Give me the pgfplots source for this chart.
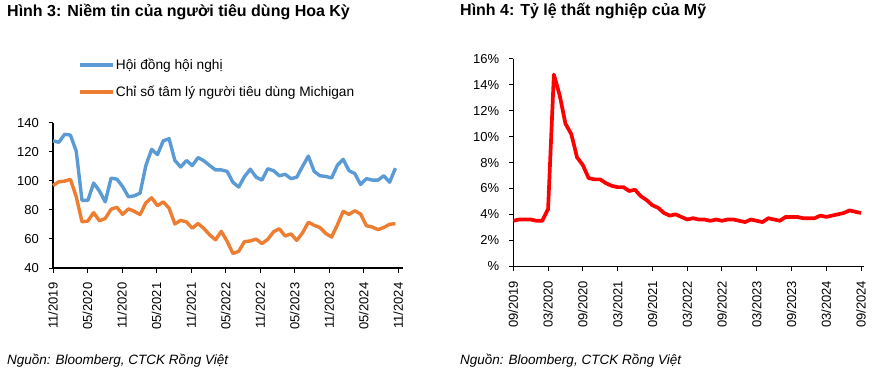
\documentclass[border=0pt]{standalone}
\usepackage{pgfplots}
\pgfplotsset{compat=1.18}
\usepackage{fontspec}
\setmainfont{Liberation Sans}
\definecolor{cbblue}{HTML}{5B9BD5}
\definecolor{umorange}{HTML}{ED7D31}
\begin{document}
\begin{tikzpicture}[x=1pt,y=1pt]
\useasboundingbox (0,0) rectangle (874,370);
\pgfplotsset{
  base/.style={
    scale only axis,
    axis lines=left,
    axis line style={line width=1.1pt,-,black},
    tick style={line width=1pt,black},
    tick align=outside,
    major tick length=4.5pt,
    tick label style={font=\fontsize{13}{15}\selectfont},
    /pgf/number format/assume math mode=true,
    xticklabel style={rotate=90,anchor=east,inner xsep=10pt},
    yticklabel style={inner xsep=9.5pt},
    clip=false,
  }
}
% ---------------- Left chart ----------------
\node[anchor=base west,inner sep=0,font=\bfseries\fontsize{16}{19}\selectfont] at (7,353.3) {Hình 3: Niềm tin của người tiêu dùng Hoa Kỳ};
\node[anchor=base west,inner sep=0,font=\itshape\fontsize{13.5}{16}\selectfont] at (7,5.7) {Nguồn: Bloomberg, CTCK Rồng Việt};
\begin{axis}[base,
  at={(53pt,102pt)},anchor=south west,
  width=350.3pt,height=145.3pt,
  xmin=0,xmax=60.36,ymin=40,ymax=140,
  ytick={40,60,...,140},
  xtick={0,5.95,11.9,17.85,23.8,29.75,35.7,41.65,47.6,53.55,59.5},
  xticklabels={11/2019,05/2020,11/2020,05/2021,11/2021,05/2022,11/2022,05/2023,11/2023,05/2024,11/2024},
  legend style={at={(0.071,1.305)},anchor=west,draw=none,fill=none,inner sep=0pt,
    row sep=12pt,font=\fontsize{13.7}{16}\selectfont,
    nodes={inner sep=1.5pt}},
  legend cell align=left,
  legend image code/.code={\draw[#1] (0pt,0pt) -- (33pt,0pt);},
]
\addplot[cbblue,line width=3.4pt,line join=round] coordinates {
(0,127.5)(1,126.5)(2,132)(3,131.5)(4,120.5)(5,86.5)(6,86.5)(7,98.5)(8,93)(9,85.5)
(10,101.8)(11,101.2)(12,96)(13,89)(14,89.7)(15,91.5)(16,110.5)(17,121.7)(18,118)(19,127.5)
(20,129)(21,114)(22,109.5)(23,114)(24,110.5)(25,116)(26,113.8)(27,110.5)(28,107.5)(29,107.5)
(30,106.5)(31,99)(32,95.7)(33,103)(34,108)(35,102.5)(36,100.5)(37,108.3)(38,107)(39,103.5)
(40,104.5)(41,101.5)(42,102.5)(43,110)(44,117)(45,106.5)(46,103.5)(47,103)(48,102)(49,110.7)
(50,114.8)(51,107)(52,105)(53,97.5)(54,101.5)(55,100.5)(56,100.5)(57,103.5)(58,99)(59,108.7)
};
\addlegendentry{Hội đồng hội nghị}
\addplot[umorange,line width=3.4pt,line join=round] coordinates {
(0,96.8)(1,99.3)(2,99.8)(3,101.0)(4,89.1)(5,71.8)(6,72.3)(7,78.1)(8,72.5)(9,74.1)
(10,80.4)(11,81.8)(12,76.9)(13,80.7)(14,79.0)(15,76.8)(16,84.9)(17,88.3)(18,82.9)(19,85.5)
(20,81.2)(21,70.3)(22,72.8)(23,71.7)(24,67.4)(25,70.6)(26,67.2)(27,62.8)(28,59.4)(29,65.2)
(30,58.4)(31,50.0)(32,51.5)(33,58.2)(34,58.6)(35,59.9)(36,56.8)(37,59.7)(38,64.9)(39,67.0)
(40,62.0)(41,63.5)(42,59.0)(43,64.2)(44,71.5)(45,69.4)(46,67.8)(47,63.8)(48,61.3)(49,69.7)
(50,79.0)(51,76.9)(52,79.4)(53,77.2)(54,69.1)(55,68.2)(56,66.4)(57,67.9)(58,70.1)(59,70.5)
};
\addlegendentry{Chỉ số tâm lý người tiêu dùng Michigan}
\end{axis}
% ---------------- Right chart ----------------
\node[anchor=base west,inner sep=0,font=\bfseries\fontsize{16}{19}\selectfont] at (460,354.3) {Hình 4: Tỷ lệ thất nghiệp của Mỹ};
\node[anchor=base west,inner sep=0,font=\itshape\fontsize{13.5}{16}\selectfont] at (460,5.2) {Nguồn: Bloomberg, CTCK Rồng Việt};
\begin{axis}[base,
  at={(513.3pt,103.9pt)},anchor=south west,
  width=351pt,height=207.1pt,
  xmin=0,xmax=60.57,ymin=0,ymax=16,
  ytick={0,2,...,16},
  yticklabels={\%,2\%,4\%,6\%,8\%,10\%,12\%,14\%,16\%},
  xtick={0,6,...,60},
  xticklabels={09/2019,03/2020,09/2020,03/2021,09/2021,03/2022,09/2022,03/2023,09/2023,03/2024,09/2024},
]
\addplot[red,line width=3.7pt,line join=round] coordinates {
(0,3.5)(1,3.6)(2,3.6)(3,3.6)(4,3.5)(5,3.5)(6,4.4)(7,14.8)(8,13.2)(9,11.0)
(10,10.2)(11,8.4)(12,7.8)(13,6.8)(14,6.7)(15,6.7)(16,6.4)(17,6.2)(18,6.1)(19,6.1)
(20,5.8)(21,5.9)(22,5.4)(23,5.1)(24,4.7)(25,4.5)(26,4.1)(27,3.9)(28,4.0)(29,3.8)
(30,3.6)(31,3.7)(32,3.6)(33,3.6)(34,3.5)(35,3.6)(36,3.5)(37,3.6)(38,3.6)(39,3.5)
(40,3.4)(41,3.6)(42,3.5)(43,3.4)(44,3.7)(45,3.6)(46,3.5)(47,3.8)(48,3.8)(49,3.8)
(50,3.7)(51,3.7)(52,3.7)(53,3.9)(54,3.8)(55,3.9)(56,4.0)(57,4.1)(58,4.3)(59,4.2)
(60,4.1)
};
\end{axis}
\end{tikzpicture}
\end{document}
